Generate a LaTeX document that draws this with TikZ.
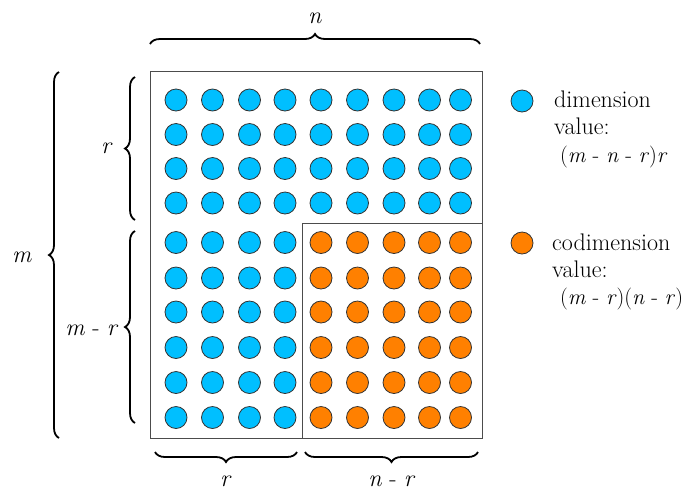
\documentclass[tikz,border=0pt]{standalone}
\usetikzlibrary{decorations.pathreplacing}
\definecolor{dimblue}{HTML}{00BFFF}
\definecolor{codorange}{HTML}{FF8000}
\definecolor{edgegray}{HTML}{333333}
\newcommand\vi[1]{\textit{#1}}
\tikzset{
  dot/.style={circle, draw=edgegray, line width=0.8pt, minimum size=22pt, inner sep=0pt},
  bluedot/.style={dot, fill=dimblue},
  orangedot/.style={dot, fill=codorange},
  frame/.style={draw=black!70, line width=1pt},
  bigbrace/.style={decorate, decoration={brace, amplitude=10pt}, line width=1.8pt},
  lbl/.style={font=\rmfamily\fontsize{24}{28}\selectfont, inner sep=0pt},
  formula/.style={font=\rmfamily\fontsize{22}{26}\selectfont, inner sep=0pt},
}
\begin{document}
\begin{tikzpicture}[x=1pt, y=-1pt]
\useasboundingbox (0,0) rectangle (695,491);
% frames
\node[frame, minimum width=332pt, minimum height=367pt, inner sep=0pt, anchor=north west] (outer) at (150,71) {};
\node[frame, minimum width=180pt, minimum height=215pt, inner sep=0pt, anchor=north west] (inner) at (302,223) {};
% dots
\foreach \x [count=\i] in {176,212.5,249.5,285,321,357.5,394,429.5,460.5} {
  \foreach \y [count=\j] in {100,134.5,168.5,203,242.5,278,312,347.5,382.5,417.5} {
    \ifnum\i>4 \ifnum\j>4
      \node[orangedot] (c-\i-\j) at (\x,\y) {};
    \else
      \node[bluedot] (c-\i-\j) at (\x,\y) {};
    \fi\else
      \node[bluedot] (c-\i-\j) at (\x,\y) {};
    \fi
  }
}
% brace endpoints
\coordinate (tn1) at (150,44); \coordinate (tn2) at (480,44);
\coordinate (br1) at (297,452); \coordinate (br2) at (155,452);
\coordinate (bnr1) at (478,452); \coordinate (bnr2) at (305,452);
\coordinate (lm1) at (59,438); \coordinate (lm2) at (59,72);
\coordinate (lr1) at (135,220); \coordinate (lr2) at (135,77);
\coordinate (lmr1) at (135,423); \coordinate (lmr2) at (135,231);
\draw[bigbrace] (tn1) -- (tn2);
\draw[bigbrace] (br1) -- (br2);
\draw[bigbrace] (bnr1) -- (bnr2);
\draw[bigbrace] (lm1) -- (lm2);
\draw[bigbrace] (lr1) -- (lr2);
\draw[bigbrace] (lmr1) -- (lmr2);
% brace labels
\node[lbl] (ln) at (315,18) {\vi{n}};
\node[lbl, anchor=base] (lbr) at (226,486) {\vi{r}};
\node[lbl, anchor=base] (lbnr) at (392,486) {\vi{n} - \vi{r}};
\node[lbl] (lm) at (22,257) {\vi{m}};
\node[lbl] (lr) at (107,148) {\vi{r}};
\node[lbl] (lmr) at (92,330) {\vi{m} - \vi{r}};
% legend
\node[bluedot] (legb) at (522,101) {};
\node[lbl, anchor=base west] (t1) at (554,107) {dimension};
\node[lbl, anchor=base west] (t2) at (554,134) {value:};
\node[formula, anchor=base west] (t3) at (560,162) {(\vi{m} - \vi{n} - \vi{r})\vi{r}};
\node[orangedot] (lego) at (522,243) {};
\node[lbl, anchor=base west] (t4) at (552,250) {codimension};
\node[lbl, anchor=base west] (t5) at (552,277) {value:};
\node[formula, anchor=base west] (t6) at (560,304) {(\vi{m} - \vi{r})(\vi{n} - \vi{r})};
\end{tikzpicture}
\end{document}
